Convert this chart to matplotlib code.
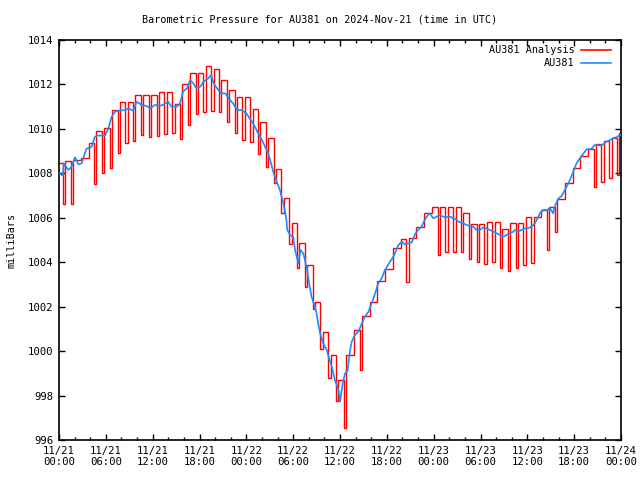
import numpy as np
import matplotlib
matplotlib.use("Agg")
import matplotlib.pyplot as plt
from matplotlib.lines import Line2D
from matplotlib.ticker import MultipleLocator, FixedLocator

# ---------------- data ----------------
# hourly analysis values (box tops), hour 0 .. 72
analysis_top = [1008.45, 1008.55, 1008.6, 1008.7, 1009.35, 1009.9, 1010.03, 1010.83, 1011.2, 1011.2,
                1011.52, 1011.52, 1011.52, 1011.65, 1011.65, 1011.12, 1012.0, 1012.5, 1012.5, 1012.83,
                1012.68, 1012.2, 1011.75, 1011.42, 1011.45, 1010.88, 1010.3, 1009.58, 1008.2, 1006.88,
                1005.75, 1004.88, 1003.87, 1002.2, 1000.87, 999.82, 998.7, 999.82, 1000.95, 1001.58,
                1002.22, 1003.15, 1003.7, 1004.63, 1005.03, 1005.08, 1005.6, 1006.2, 1006.47, 1006.47,
                1006.47, 1006.47, 1006.2, 1005.72, 1005.72, 1005.8, 1005.8, 1005.48, 1005.75, 1005.75,
                1006.02, 1006.02, 1006.35, 1006.5, 1006.85, 1007.55, 1008.22, 1008.78, 1009.08, 1009.32,
                1009.47, 1009.57, 1009.8]
# low dips between hour h and h+1 (nan = no dip)
nan = float("nan")
analysis_dip = [1006.6, 1006.6, nan, nan, 1007.52, 1008.03, 1008.25, 1008.93, 1009.38, 1009.45,
                1009.72, 1009.65, 1009.68, 1009.77, 1009.83, 1009.55, 1010.18, 1010.67, 1010.77, 1010.8,
                1010.77, 1010.33, 1009.8, 1009.5, 1009.42, 1008.85, 1008.27, 1007.55, 1006.2, 1004.8,
                1003.73, 1002.9, 1001.88, 1000.08, 998.77, 997.77, 996.52, nan, 999.15, nan,
                nan, nan, nan, nan, 1003.13, nan, nan, nan, 1004.33, 1004.48,
                1004.48, 1004.48, 1004.13, 1004.03, 1003.92, 1004.03, 1003.73, 1003.62, 1003.76, 1003.88,
                1003.98, nan, 1004.55, 1005.38, nan, nan, nan, nan, 1007.37, 1007.6,
                1007.78, 1007.93]

# observed AU381 (hours since 11/21 00:00, mbar)
obs_hours = [0.0, 0.5, 0.6, 1.2, 1.6, 2.05, 2.5, 2.9, 3.1, 3.5, 4.2, 4.6, 5.0, 5.9, 6.3, 6.75, 7.2, 7.6,
             8.5, 8.9, 9.5, 9.95, 10.6, 11.2, 11.7, 12.3, 13.15, 14.0, 14.4, 15.1, 15.5, 15.9, 16.4,
             16.8, 17.2, 17.6, 18.1, 18.5, 19.1, 19.5, 19.8, 20.4, 20.8, 21.3, 21.7, 22.3, 22.8, 23.4,
             24.0, 24.7, 25.1, 25.5, 26.0, 26.4, 26.8, 27.2, 27.5, 28.3, 28.75, 29.1, 29.25, 29.6,
             30.0, 30.25, 30.65, 30.95, 31.3, 31.75, 32.05, 32.35, 32.8, 33.0, 33.2, 33.45, 33.85,
             34.3, 34.65, 34.95, 35.35, 35.8, 36.0, 36.35, 36.65, 36.95, 37.3, 37.5, 37.9, 38.35,
             38.8, 39.2, 39.65, 40.05, 40.5, 40.9, 41.35, 41.75, 42.4, 42.85, 43.5, 43.9, 44.3,
             44.75, 45.2, 45.6, 46.0, 46.45, 46.75, 47.1, 47.5, 47.95, 48.4, 48.8, 49.2, 49.65,
             50.1, 50.5, 50.9, 51.15, 51.8, 52.2, 52.65, 53.05, 53.5, 53.9, 54.35, 54.8, 55.2,
             55.65, 56.05, 56.5, 56.9, 57.35, 57.75, 58.2, 58.4, 58.85, 59.25, 59.7, 60.1, 60.55,
             60.95, 61.4, 61.6, 62.05, 62.5, 62.9, 63.3, 63.5, 64.0, 64.4, 64.8, 65.25, 65.55,
             65.9, 66.3, 66.75, 67.2, 67.6, 68.2, 68.65, 69.3, 69.7, 70.15, 70.6, 71.0, 71.4,
             71.85, 72.0]
obs_values = [1008.0, 1007.9, 1008.45, 1008.15, 1008.3, 1008.72, 1008.4, 1008.45, 1008.67, 1009.1,
              1009.2, 1009.65, 1009.7, 1009.7, 1010.0, 1010.55, 1010.78, 1010.82, 1010.85, 1010.92,
              1010.82, 1011.22, 1011.08, 1011.03, 1010.93, 1011.08, 1011.05, 1011.22, 1011.0, 1011.0,
              1011.15, 1011.68, 1011.83, 1012.2, 1012.05, 1011.83, 1011.9, 1012.12, 1012.27, 1012.43,
              1012.05, 1011.75, 1011.6, 1011.6, 1011.38, 1011.15, 1010.85, 1010.85, 1010.7, 1010.33,
              1010.1, 1009.8, 1009.5, 1009.2, 1008.9, 1008.4, 1008.0, 1007.25, 1006.65, 1006.0,
              1005.45, 1005.22, 1005.15, 1004.55, 1003.95, 1004.55, 1004.4, 1003.73, 1003.05, 1002.45,
              1002.0, 1001.7, 1001.25, 1000.8, 1000.35, 1000.05, 999.6, 999.3, 998.7, 998.25,
              997.72, 998.55, 999.0, 999.1, 1000.05, 1000.42, 1000.72, 1000.87, 1001.25, 1001.55,
              1001.77, 1002.15, 1002.6, 1003.05, 1003.28, 1003.65, 1004.02, 1004.25, 1004.78, 1004.92,
              1004.8, 1004.85, 1004.9, 1005.25, 1005.45, 1005.6, 1005.83, 1006.05, 1006.2, 1005.98,
              1006.05, 1006.13, 1006.05, 1006.03, 1006.05, 1005.98, 1005.93, 1005.83, 1005.75, 1005.68,
              1005.63, 1005.6, 1005.45, 1005.45, 1005.57, 1005.52, 1005.45, 1005.38, 1005.3, 1005.23,
              1005.15, 1005.23, 1005.3, 1005.38, 1005.45, 1005.38, 1005.45, 1005.53, 1005.53, 1005.6,
              1005.75, 1006.02, 1006.2, 1006.35, 1006.35, 1006.43, 1006.2, 1006.5, 1006.88, 1006.98,
              1007.25, 1007.55, 1007.78, 1008.08, 1008.45, 1008.68, 1008.9, 1009.08, 1009.1, 1009.28,
              1009.25, 1009.3, 1009.43, 1009.5, 1009.58, 1009.62, 1009.73, 1009.75]

tick_labels = ["11/21\n00:00", "11/21\n06:00", "11/21\n12:00", "11/21\n18:00",
               "11/22\n00:00", "11/22\n06:00", "11/22\n12:00", "11/22\n18:00",
               "11/23\n00:00", "11/23\n06:00", "11/23\n12:00", "11/23\n18:00",
               "11/24\n00:00"]

# ---------------- build analysis step path ----------------
gap = 0.3
n = len(analysis_top)
px, py = [], []
for h in range(n):
    left = 0.0 if h == 0 else h - 0.5 + gap
    right = min(h + 0.5, n - 1)
    px += [left, right]
    py += [analysis_top[h], analysis_top[h]]
    if h < n - 1:
        d = analysis_dip[h]
        lo = min(analysis_top[h], analysis_top[h + 1])
        if not np.isnan(d):
            lo = min(lo, d)
        px += [right, right + gap]
        py += [lo, lo]

# ---------------- figure ----------------
font = "DejaVu Sans Mono"
fs = 7.3
plt.rcParams["font.family"] = font
fig = plt.figure(figsize=(6.4, 4.8), dpi=100)
ax = fig.add_axes([59 / 640, 1 - 440 / 480, 562 / 640, 400 / 480])

red = "#ff0000"
blue = "#1a8cff"
ax.plot(px, py, color=red, lw=1.0, solid_joinstyle="miter", zorder=2)
ax.plot(obs_hours, obs_values, color=blue, lw=1.2, zorder=3)

ax.set_xlim(0, 72)
ax.set_ylim(996, 1014)
ax.xaxis.set_major_locator(FixedLocator(np.arange(0, 73, 6)))
ax.set_xticklabels(tick_labels)
ax.xaxis.set_minor_locator(MultipleLocator(2))
ax.yaxis.set_major_locator(MultipleLocator(2))
ax.yaxis.set_major_formatter(matplotlib.ticker.FormatStrFormatter("%d"))
ax.tick_params(which="both", direction="in", top=True, right=True, labelsize=fs + 0.4, pad=4)
ax.tick_params(which="major", length=4.5, width=1)
ax.tick_params(which="minor", length=2.5, width=1)
for s in ax.spines.values():
    s.set_linewidth(1.2)

ax.set_ylabel("milliBars", fontsize=fs, labelpad=8)
fig.text(0.5, 1 - 20 / 480, "Barometric Pressure for AU381 on 2024-Nov-21 (time in UTC)",
         ha="center", va="center", fontsize=fs)

# legend (gnuplot style: text right-aligned, sample to the right)
for i, (lab, col) in enumerate([("AU381 Analysis", red), ("AU381", blue)]):
    yy = 1 - (50 + 13 * i - 40) / 400
    ax.text(0.918, yy, lab, transform=ax.transAxes, ha="right", va="center", fontsize=fs)
    ax.add_line(Line2D([0.928, 0.983], [yy, yy], transform=ax.transAxes, color=col, lw=1.2))

fig.savefig("out.png", dpi=100)
